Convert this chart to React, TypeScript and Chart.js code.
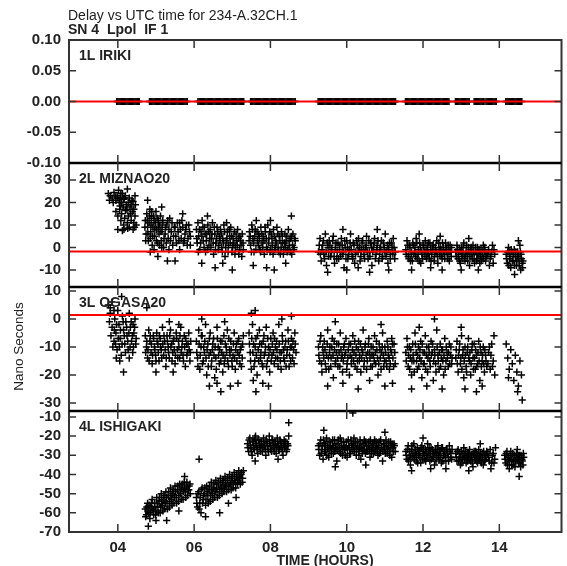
import React, { useEffect, useRef } from 'react';
import { Chart, registerables } from 'chart.js';

Chart.register(...registerables);

const TITLE = 'Delay vs UTC time for 234-A.32CH.1';
const SUBTITLE = 'SN 4  Lpol  IF 1';
const X_LABEL = 'TIME (HOURS)';
const Y_LABEL = 'Nano Seconds';

const X_TICKS = [4, 6, 8, 10, 12, 14];
const X_MIN = 2.72;
const X_MAX = 15.63;

const PANEL_NAMES = ['1L IRIKI', '2L MIZNAO20', '3L OGASA20', '4L ISHIGAKI'];
const Y_TICKS_1 = [-0.1, -0.05, 0, 0.05, 0.1];
const Y_TICKS_2 = [-10, 0, 10, 20, 30];
const Y_TICKS_3 = [-30, -20, -10, 0, 10];
const Y_TICKS_4 = [-70, -60, -50, -40, -30, -20, -10];
const Y_RANGE_1 = [-0.1, 0.1];
const Y_RANGE_2 = [-17.6, 37.6];
const Y_RANGE_3 = [-32.9, 11.4];
const Y_RANGE_4 = [-70, -6.9];
const REF_LINES = [0, -1.8, 1.4]; // red reference delay per panel 1..3

// 1L IRIKI: reference antenna, delay 0.00 at all times
const irikiTimes = [
  3.97,4.00,4.03,4.06,4.09,4.12,4.15,4.18,4.21,4.24,4.27,4.30,4.33,4.36,4.39,4.42,4.45,4.48,4.51,4.54,4.56,
  4.83,4.86,4.89,4.92,4.95,4.98,5.01,5.04,5.07,5.10,5.13,5.16,5.19,5.22,5.25,5.28,5.31,5.34,5.37,5.40,5.43,5.46,5.49,5.52,5.55,5.58,5.61,5.64,5.67,5.70,5.73,5.76,5.79,5.82,
  6.10,6.13,6.16,6.19,6.22,6.25,6.28,6.31,6.34,6.37,6.40,6.43,6.46,6.49,6.52,6.55,6.58,6.61,6.64,6.67,6.70,6.73,6.76,6.79,6.82,6.85,6.88,6.91,6.94,6.97,7.00,7.03,7.06,7.09,7.12,7.15,7.18,7.21,7.24,7.27,7.30,
  7.48,7.51,7.54,7.57,7.60,7.63,7.66,7.69,7.72,7.75,7.78,7.81,7.84,7.87,7.90,7.93,7.96,7.99,8.02,8.05,8.08,8.11,8.14,8.17,8.20,8.23,8.26,8.29,8.32,8.35,8.38,8.41,8.44,8.47,8.50,8.53,8.56,8.59,8.62,8.65,
  9.25,9.28,9.31,9.34,9.37,9.40,9.43,9.46,9.49,9.52,9.55,9.58,9.61,9.64,9.67,9.70,9.73,9.76,9.79,9.82,9.85,9.88,9.91,9.94,9.97,10.00,10.03,10.06,10.09,10.12,10.15,10.18,10.21,10.24,10.27,10.30,10.33,10.36,10.39,10.42,10.45,10.48,10.51,10.54,10.57,10.60,10.63,10.66,10.69,10.72,10.75,10.78,10.81,10.84,10.87,10.90,10.93,10.96,10.99,11.02,11.05,11.08,11.11,11.14,11.17,11.20,11.23,11.26,11.28,
  11.54,11.57,11.60,11.63,11.66,11.69,11.72,11.75,11.78,11.81,11.84,11.87,11.90,11.93,11.96,11.99,12.02,12.05,12.08,12.11,12.14,12.17,12.20,12.23,12.26,12.29,12.32,12.35,12.38,12.41,12.44,12.47,12.50,12.53,12.56,12.59,12.62,12.65,12.68,
  12.85,12.88,12.91,12.94,12.97,13.00,13.03,13.06,13.09,13.12,13.15,13.18,13.21,
  13.34,13.37,13.40,13.43,13.46,13.49,13.52,13.55,13.58,13.60,
  13.65,13.68,13.71,13.74,13.77,13.80,13.83,13.86,13.89,13.92,
  14.17,14.20,14.23,14.26,14.29,14.32,14.35,14.38,14.41,14.44,14.47,14.50,14.53,14.56,14.59,
];
const irikiDelay = 0.0;

// 2L MIZNAO20 [hours, ns]
const miznao20: [number, number][] = [
  [3.75,24],[3.8,23],[3.85,22],[3.9,24.5],[3.95,21],[3.98,23],[4.02,25.5],[4.06,22],[4.1,20],[4.12,24],[4.15,21.5],[4.2,23],[4.25,26],[4.3,22],[4.35,19],[4.4,20.5],[4.45,23],
  [3.95,16],[4.0,14],[4.05,17],[4.08,12],[4.1,15],[4.15,10],[4.18,13],[4.2,16.5],[4.25,11],[4.28,14],[4.3,9],[4.35,12],[4.38,16],[4.4,8],[4.42,11],[4.45,14],[4.48,10],[4.0,8],[4.12,7.5],[4.22,19],[4.32,18],[4.06,18.5],
  [3.78,21],[3.88,20],[3.93,23],[4.0,22],[4.04,20],[4.08,24],[4.14,18],[4.17,22],[4.24,17],[4.27,20],[4.33,15],[4.37,21],[4.42,17],[4.46,19],[4.16,8],[4.26,8.5],[4.44,9],
  [4.72,12],[4.74,6],[4.76,15],[4.78,9],[4.8,3],[4.82,11],[4.84,17],[4.86,7],[4.88,13],[4.9,1],[4.92,9],[4.94,14],[4.96,5],[4.98,11],[5.0,16],[5.02,8],[5.04,2],[5.06,12],[5.08,6],[5.1,10],[5.12,14],[5.14,3],[5.16,8],[5.18,12],[5.2,0],[5.24,6],[5.28,10],[5.32,4],[5.36,13],[5.4,7],[5.44,1],[5.48,9],[5.52,5],[5.56,11],[5.6,3],[5.64,8],[5.68,12],[5.72,2],[5.76,6],[5.8,10],[5.84,4],[5.88,7],[5.9,1],[4.78,21],[4.85,-2],[5.05,-4],[5.3,-6],[5.5,-6],[5.15,18],[5.7,15],
  [4.71,9],[4.73,3],[4.77,12],[4.79,6],[4.83,14],[4.85,4],[4.87,10],[4.89,16],[4.91,5],[4.95,12],[4.97,8],[5.01,3],[5.03,13],[5.07,9],[5.09,1],[5.13,7],[5.17,11],[5.21,4],[5.25,9],[5.27,2],[5.31,12],[5.34,8],[5.38,3],[5.42,11],[5.46,5],[5.5,9],[5.54,2],[5.58,7],[5.62,11],[5.66,4],[5.7,9],[5.74,3],[5.78,8],[5.82,1],[5.86,10],[5.9,5],[5.34,-1],[5.62,-1],[4.95,-1],[5.15,0],
  [6.06,8],[6.08,2],[6.1,11],[6.12,5],[6.15,-1],[6.18,7],[6.21,12],[6.24,3],[6.27,9],[6.3,-2],[6.33,6],[6.36,10],[6.39,1],[6.42,8],[6.45,4],[6.48,11],[6.51,-3],[6.54,6],[6.57,2],[6.6,9],[6.63,-1],[6.66,5],[6.69,8],[6.72,0],[6.75,4],[6.78,10],[6.81,-4],[6.84,3],[6.87,7],[6.9,1],[6.93,5],[6.96,9],[6.99,-2],[7.02,4],[7.05,7],[7.08,0],[7.11,3],[7.14,8],[7.17,-3],[7.2,5],[7.23,1],[7.26,6],[7.29,-1],[6.2,-7],[6.55,-9],[6.75,-7],[7.0,-10],[6.35,14],[6.85,11],
  [6.07,4],[6.11,-2],[6.14,8],[6.17,2],[6.2,5],[6.23,9],[6.26,0],[6.29,6],[6.32,3],[6.35,-1],[6.38,7],[6.41,4],[6.44,0],[6.47,6],[6.5,2],[6.53,9],[6.56,-1],[6.59,4],[6.62,7],[6.65,1],[6.68,3],[6.71,6],[6.74,-2],[6.77,2],[6.8,7],[6.83,0],[6.86,4],[6.89,-2],[6.92,8],[6.95,2],[6.98,5],[7.01,0],[7.04,2],[7.07,-3],[7.1,6],[7.13,1],[7.16,4],[7.19,-1],[7.22,3],[7.25,-4],[7.28,2],
  [7.45,7],[7.48,1],[7.51,10],[7.54,4],[7.57,-2],[7.6,8],[7.63,12],[7.66,3],[7.69,6],[7.72,-1],[7.75,9],[7.78,2],[7.81,5],[7.84,-3],[7.87,7],[7.9,0],[7.93,10],[7.96,4],[7.99,-2],[8.02,6],[8.05,1],[8.08,8],[8.11,-1],[8.14,3],[8.17,9],[8.2,0],[8.23,5],[8.26,-3],[8.29,7],[8.32,2],[8.35,-1],[8.38,6],[8.41,3],[8.44,-2],[8.47,8],[8.5,1],[8.53,4],[8.56,-3],[8.59,6],[8.62,0],[8.65,3],[7.55,-8],[7.9,-9],[8.1,-10],[8.4,-7],[8.55,14],[8.0,12],
  [7.44,3],[7.47,5],[7.5,-2],[7.53,8],[7.56,2],[7.59,5],[7.62,-1],[7.65,7],[7.68,1],[7.71,4],[7.74,-2],[7.77,6],[7.8,0],[7.83,3],[7.86,9],[7.89,4],[7.92,-1],[7.95,2],[7.98,7],[8.01,-1],[8.04,4],[8.07,-3],[8.1,5],[8.13,0],[8.16,2],[8.19,6],[8.22,-2],[8.25,3],[8.28,0],[8.31,5],[8.34,-3],[8.37,2],[8.4,0],[8.43,5],[8.46,-1],[8.49,3],[8.52,-2],[8.55,5],[8.58,1],[8.61,-1],[8.64,4],
  [9.26,-2],[9.3,4],[9.33,-6],[9.37,1],[9.4,-3],[9.44,6],[9.47,-8],[9.51,0],[9.54,3],[9.58,-4],[9.61,-1],[9.65,5],[9.68,-7],[9.72,2],[9.75,-2],[9.79,-5],[9.82,1],[9.86,4],[9.89,-3],[9.93,-9],[9.96,0],[10.0,3],[10.03,-5],[10.07,-1],[10.1,6],[10.14,-4],[10.17,2],[10.21,-7],[10.24,-2],[10.28,1],[10.31,4],[10.35,-6],[10.38,-1],[10.42,3],[10.45,-3],[10.49,0],[10.52,5],[10.56,-5],[10.59,-2],[10.63,2],[10.66,-8],[10.7,0],[10.73,4],[10.77,-3],[10.8,1],[10.84,-6],[10.87,-1],[10.91,3],[10.94,-4],[10.98,0],[11.01,6],[11.05,-2],[11.08,-7],[11.12,2],[11.15,-3],[11.19,0],[11.22,4],[11.26,-5],[9.5,-11],[10.0,-10],[10.6,-11],[11.1,-10],[9.9,8],[10.8,8],[10.3,-9],
  [9.28,1],[9.31,-3],[9.35,-1],[9.39,3],[9.42,-5],[9.46,-2],[9.49,2],[9.53,-4],[9.56,1],[9.6,-2],[9.63,3],[9.67,-4],[9.7,0],[9.74,-5],[9.77,2],[9.81,-1],[9.84,-4],[9.88,1],[9.91,-2],[9.95,3],[9.98,-5],[10.02,0],[10.05,-3],[10.09,2],[10.12,-1],[10.16,-5],[10.19,1],[10.23,-3],[10.26,3],[10.3,-2],[10.33,0],[10.37,-4],[10.4,2],[10.44,-1],[10.47,-5],[10.51,1],[10.54,-2],[10.58,3],[10.61,-4],[10.65,0],[10.68,-2],[10.72,2],[10.75,-5],[10.79,-1],[10.82,3],[10.86,-3],[10.89,0],[10.93,-5],[10.96,2],[11.0,-2],[11.03,-4],[11.07,1],[11.1,-1],[11.14,-5],[11.17,2],[11.21,-3],[11.24,0],[11.27,-2],
  [11.55,-1],[11.58,3],[11.61,-4],[11.64,1],[11.67,-6],[11.7,-2],[11.73,2],[11.76,-3],[11.79,0],[11.82,4],[11.85,-5],[11.88,-1],[11.91,2],[11.94,-7],[11.97,-3],[12.0,1],[12.03,-2],[12.06,3],[12.09,-5],[12.12,0],[12.15,-3],[12.18,2],[12.21,-6],[12.24,-1],[12.27,1],[12.3,-4],[12.33,-2],[12.36,3],[12.39,-7],[12.42,-1],[12.45,0],[12.48,-4],[12.51,2],[12.54,-2],[12.57,-5],[12.6,0],[12.63,-3],[12.66,1],[12.69,-6],[12.72,-2],[12.75,0],[11.7,-10],[12.2,-9],[12.5,-10],[11.9,6],[12.45,5],
  [11.56,-3],[11.6,1],[11.63,-5],[11.66,0],[11.69,-3],[11.72,-6],[11.75,1],[11.78,-2],[11.81,-4],[11.84,2],[11.87,-3],[11.9,-6],[11.93,0],[11.96,-2],[11.99,-5],[12.02,1],[12.05,-4],[12.08,-1],[12.11,-3],[12.14,2],[12.17,-5],[12.2,-1],[12.23,-3],[12.26,1],[12.29,-6],[12.32,0],[12.35,-2],[12.38,-4],[12.41,2],[12.44,-3],[12.47,-1],[12.5,-5],[12.53,0],[12.56,-3],[12.59,2],[12.62,-1],[12.65,-5],[12.68,-2],[12.71,1],[12.74,-4],
  [12.86,-2],[12.89,1],[12.92,-5],[12.95,-1],[12.98,-7],[13.01,0],[13.04,-3],[13.07,2],[13.1,-6],[13.13,-2],[13.16,-4],[13.19,0],[13.22,-8],[13.25,-1],[13.28,-3],[13.31,1],[13.34,-5],[13.37,-2],[13.4,-6],[13.43,0],[13.46,-3],[13.49,-7],[13.52,-1],[13.55,-4],[13.58,1],[13.61,-2],[13.64,-6],[13.67,-3],[13.0,-10],[13.45,-10],[13.2,4],
  [12.87,-4],[12.9,-1],[12.93,-3],[12.96,-6],[12.99,-2],[13.02,-4],[13.05,0],[13.08,-5],[13.11,-3],[13.14,1],[13.17,-6],[13.2,-2],[13.23,-4],[13.26,0],[13.29,-5],[13.32,-2],[13.35,-7],[13.38,0],[13.41,-3],[13.44,-5],[13.47,-1],[13.5,-4],[13.53,-6],[13.56,-2],[13.59,-5],[13.62,0],[13.65,-4],[13.7,-3],[13.78,-4],[13.86,-1],
  [13.72,-1],[13.76,-5],[13.8,-2],[13.84,-7],[13.88,-3],[13.74,-8],[13.82,1],
  [14.18,-3],[14.21,-7],[14.24,0],[14.27,-5],[14.3,-9],[14.33,-2],[14.36,-6],[14.39,-1],[14.42,-4],[14.45,-8],[14.48,-2],[14.51,-5],[14.54,1],[14.57,-3],[14.6,-7],[14.5,-4],[14.56,-10],[14.26,-2],[14.62,-6],[14.4,-12],[14.5,3],
  [14.19,-5],[14.22,-2],[14.25,-8],[14.28,-4],[14.31,-1],[14.34,-6],[14.37,-3],[14.4,-8],[14.43,-2],[14.46,-6],[14.49,-4],[14.52,-8],[14.55,-2],[14.58,-5],[14.61,-9],
];

// 3L OGASA20 [hours, ns]
const ogasa20: [number, number][] = [
  [3.75,5],[3.8,2],[3.85,-3],[3.9,-8],[3.92,0],[3.95,-5],[3.98,-11],[4.0,3],[4.03,-2],[4.06,-7],[4.09,-13],[4.12,1],[4.15,-4],[4.18,-9],[4.21,-1],[4.24,-6],[4.27,-11],[4.3,2],[4.33,-3],[4.36,-8],[4.39,-12],[4.42,-5],[4.45,0],[4.48,-7],[3.96,-14],[4.05,-15],[4.15,-19],[4.3,-14],[3.85,6],[4.1,8],[4.4,-2],
  [3.78,-1],[3.82,-6],[3.87,-10],[3.91,-4],[3.94,-9],[3.97,-2],[4.01,-7],[4.04,-10],[4.07,-4],[4.11,-9],[4.14,-1],[4.17,-6],[4.2,-12],[4.23,-3],[4.26,-8],[4.29,-5],[4.32,-10],[4.35,-1],[4.38,-6],[4.41,-10],[4.44,-3],[4.47,-9],[3.8,4],[3.9,3],
  [4.72,-6],[4.75,-10],[4.78,-14],[4.81,-4],[4.84,-8],[4.87,-12],[4.9,-16],[4.93,-6],[4.96,-10],[4.99,-13],[5.02,-5],[5.05,-9],[5.08,-15],[5.11,-7],[5.14,-11],[5.17,-3],[5.2,-13],[5.23,-8],[5.26,-17],[5.29,-6],[5.32,-10],[5.35,-14],[5.38,-4],[5.41,-9],[5.44,-12],[5.47,-7],[5.5,-16],[5.53,-5],[5.56,-11],[5.59,-8],[5.62,-14],[5.65,-3],[5.68,-10],[5.71,-13],[5.74,-6],[5.77,-17],[5.8,-9],[5.83,-12],[5.86,-5],[5.89,-15],[5.91,-8],[4.76,4],[5.35,-1],[5.6,-2],[5.0,-19],[5.45,-19],
  [4.73,-12],[4.76,-8],[4.79,-11],[4.82,-15],[4.85,-6],[4.88,-9],[4.91,-13],[4.94,-7],[4.97,-11],[5.0,-15],[5.03,-8],[5.06,-12],[5.09,-6],[5.12,-10],[5.15,-14],[5.18,-9],[5.21,-6],[5.24,-11],[5.27,-14],[5.3,-8],[5.33,-12],[5.36,-6],[5.39,-10],[5.42,-15],[5.45,-8],[5.48,-11],[5.51,-13],[5.54,-7],[5.57,-14],[5.6,-10],[5.63,-6],[5.66,-12],[5.69,-8],[5.72,-15],[5.75,-10],[5.78,-7],[5.81,-13],[5.84,-9],[5.87,-11],[5.9,-12],
  [6.06,-8],[6.09,-14],[6.12,-4],[6.15,-18],[6.18,-10],[6.21,-6],[6.24,-15],[6.27,-12],[6.3,-2],[6.33,-20],[6.36,-9],[6.39,-13],[6.42,-5],[6.45,-17],[6.48,-11],[6.51,-7],[6.54,-21],[6.57,-14],[6.6,-3],[6.63,-10],[6.66,-16],[6.69,-8],[6.72,-12],[6.75,-19],[6.78,-6],[6.81,-14],[6.84,-10],[6.87,-4],[6.9,-17],[6.93,-11],[6.96,-8],[6.99,-15],[7.02,-13],[7.05,-5],[7.08,-18],[7.11,-9],[7.14,-12],[7.17,-7],[7.2,-16],[7.23,-10],[7.26,-14],[7.29,-6],[6.6,-23],[6.7,-26],[6.95,-24],[7.15,-23],[6.4,-24],[6.2,0],[6.8,-1],
  [6.07,-12],[6.1,-17],[6.13,-9],[6.16,-13],[6.19,-6],[6.22,-16],[6.25,-10],[6.28,-8],[6.31,-14],[6.34,-11],[6.37,-17],[6.4,-7],[6.43,-12],[6.46,-15],[6.49,-9],[6.52,-13],[6.55,-10],[6.58,-18],[6.61,-7],[6.64,-13],[6.67,-11],[6.7,-15],[6.73,-8],[6.76,-13],[6.79,-16],[6.82,-9],[6.85,-12],[6.88,-15],[6.91,-7],[6.94,-13],[6.97,-11],[7.0,-17],[7.03,-9],[7.06,-14],[7.09,-11],[7.12,-15],[7.15,-8],[7.18,-13],[7.21,-11],[7.24,-17],[7.27,-9],
  [7.44,-5],[7.47,-12],[7.5,-18],[7.53,-2],[7.56,-9],[7.59,-15],[7.62,-7],[7.65,-20],[7.68,-11],[7.71,-4],[7.74,-14],[7.77,-9],[7.8,-17],[7.83,-6],[7.86,-12],[7.89,-3],[7.92,-15],[7.95,-10],[7.98,-19],[8.01,-7],[8.04,-13],[8.07,-5],[8.1,-16],[8.13,-10],[8.16,-8],[8.19,-14],[8.22,-2],[8.25,-12],[8.28,-18],[8.31,-6],[8.34,-11],[8.37,-15],[8.4,-8],[8.43,-13],[8.46,-4],[8.49,-17],[8.52,-10],[8.55,-7],[8.58,-14],[8.61,-11],[8.64,-5],[8.67,-12],[7.5,2],[7.6,3],[7.55,-22],[7.62,-26],[7.8,-23],[7.95,-24],[8.3,0],[8.55,1],
  [7.45,-9],[7.48,-15],[7.51,-7],[7.54,-12],[7.57,-17],[7.6,-10],[7.63,-13],[7.66,-6],[7.69,-15],[7.72,-9],[7.75,-12],[7.78,-16],[7.81,-8],[7.84,-13],[7.87,-10],[7.9,-17],[7.93,-7],[7.96,-13],[7.99,-11],[8.02,-15],[8.05,-9],[8.08,-12],[8.11,-7],[8.14,-14],[8.17,-11],[8.2,-17],[8.23,-9],[8.26,-15],[8.29,-12],[8.32,-8],[8.35,-14],[8.38,-10],[8.41,-17],[8.44,-11],[8.47,-8],[8.5,-13],[8.53,-15],[8.56,-10],[8.59,-8],[8.62,-16],[8.65,-9],
  [9.26,-10],[9.29,-15],[9.32,-6],[9.35,-19],[9.38,-12],[9.41,-8],[9.44,-16],[9.47,-13],[9.5,-4],[9.53,-18],[9.56,-10],[9.59,-14],[9.62,-7],[9.65,-21],[9.68,-11],[9.71,-15],[9.74,-9],[9.77,-17],[9.8,-12],[9.83,-5],[9.86,-14],[9.89,-19],[9.92,-10],[9.95,-13],[9.98,-7],[10.01,-16],[10.04,-11],[10.07,-20],[10.1,-9],[10.13,-14],[10.16,-6],[10.19,-12],[10.22,-17],[10.25,-10],[10.28,-15],[10.31,-8],[10.34,-13],[10.37,-19],[10.4,-11],[10.43,-4],[10.46,-15],[10.49,-9],[10.52,-18],[10.55,-12],[10.58,-7],[10.61,-14],[10.64,-10],[10.67,-17],[10.7,-13],[10.73,-6],[10.76,-16],[10.79,-11],[10.82,-20],[10.85,-9],[10.88,-14],[10.91,-12],[10.94,-5],[10.97,-17],[11.0,-10],[11.03,-15],[11.06,-8],[11.09,-13],[11.12,-18],[11.15,-11],[11.18,-7],[11.21,-14],[11.24,-9],[11.27,-16],[9.5,-24],[9.9,-23],[10.3,-25],[10.6,-22],[11.0,-24],[9.7,-1],[10.9,-2],[11.2,-23],
  [9.27,-13],[9.3,-8],[9.34,-16],[9.37,-10],[9.4,-14],[9.43,-11],[9.46,-18],[9.49,-9],[9.52,-14],[9.55,-12],[9.58,-17],[9.61,-10],[9.64,-13],[9.67,-8],[9.7,-16],[9.73,-12],[9.76,-14],[9.79,-9],[9.82,-17],[9.85,-11],[9.88,-13],[9.91,-15],[9.94,-9],[9.97,-12],[10.0,-18],[10.03,-14],[10.06,-9],[10.09,-13],[10.12,-16],[10.15,-11],[10.18,-15],[10.21,-8],[10.24,-13],[10.27,-18],[10.3,-11],[10.33,-15],[10.36,-9],[10.39,-14],[10.42,-12],[10.45,-17],[10.48,-10],[10.51,-13],[10.54,-15],[10.57,-9],[10.6,-12],[10.63,-17],[10.66,-13],[10.69,-10],[10.72,-15],[10.75,-12],[10.78,-8],[10.81,-14],[10.84,-16],[10.87,-11],[10.9,-18],[10.93,-10],[10.96,-13],[10.99,-15],[11.02,-12],[11.05,-17],[11.08,-10],[11.11,-14],[11.14,-16],[11.17,-12],[11.2,-9],[11.23,-17],[11.26,-12],
  [11.55,-12],[11.58,-7],[11.61,-17],[11.64,-10],[11.67,-14],[11.7,-20],[11.73,-9],[11.76,-15],[11.79,-5],[11.82,-12],[11.85,-18],[11.88,-10],[11.91,-14],[11.94,-8],[11.97,-21],[12.0,-12],[12.03,-16],[12.06,-6],[12.09,-13],[12.12,-19],[12.15,-10],[12.18,-15],[12.21,-8],[12.24,-12],[12.27,-22],[12.3,-11],[12.33,-16],[12.36,-4],[12.39,-13],[12.42,-18],[12.45,-9],[12.48,-14],[12.51,-11],[12.54,-20],[12.57,-7],[12.6,-15],[12.63,-12],[12.66,-17],[12.69,-9],[12.72,-13],[12.75,-16],[11.7,-25],[12.1,-24],[12.3,0],[12.5,-25],[11.9,-3],
  [11.56,-15],[11.59,-10],[11.62,-13],[11.65,-18],[11.68,-11],[11.71,-15],[11.74,-13],[11.77,-19],[11.8,-9],[11.83,-15],[11.86,-13],[11.89,-17],[11.92,-11],[11.95,-15],[11.98,-9],[12.01,-16],[12.04,-12],[12.07,-18],[12.1,-10],[12.13,-14],[12.16,-12],[12.19,-17],[12.22,-13],[12.25,-9],[12.28,-15],[12.31,-13],[12.34,-19],[12.37,-10],[12.4,-15],[12.43,-12],[12.46,-17],[12.49,-11],[12.52,-15],[12.55,-13],[12.58,-18],[12.61,-10],[12.64,-14],[12.67,-12],[12.7,-16],[12.73,-10],[12.76,-14],
  [12.86,-14],[12.89,-8],[12.92,-19],[12.95,-11],[12.98,-16],[13.01,-6],[13.04,-13],[13.07,-21],[13.1,-10],[13.13,-17],[13.16,-12],[13.19,-7],[13.22,-15],[13.25,-20],[13.28,-11],[13.31,-14],[13.34,-9],[13.37,-18],[13.4,-13],[13.43,-16],[13.46,-8],[13.49,-22],[13.52,-12],[13.55,-15],[13.58,-10],[13.61,-19],[13.64,-13],[13.67,-17],[13.1,-25],[13.4,-26],[13.0,-3],[13.55,-24],
  [12.87,-11],[12.9,-16],[12.93,-13],[12.96,-9],[12.99,-14],[13.02,-18],[13.05,-11],[13.08,-15],[13.11,-13],[13.14,-19],[13.17,-10],[13.2,-14],[13.23,-12],[13.26,-16],[13.29,-9],[13.32,-18],[13.35,-14],[13.38,-11],[13.41,-17],[13.44,-12],[13.47,-15],[13.5,-10],[13.53,-17],[13.56,-13],[13.59,-16],[13.62,-11],[13.65,-15],[13.7,-16],[13.74,-10],[13.82,-17],
  [13.72,-12],[13.76,-18],[13.8,-9],[13.84,-15],[13.88,-20],[13.78,-13],[13.86,-6],
  [14.18,-9],[14.22,-14],[14.26,-18],[14.3,-11],[14.34,-16],[14.38,-22],[14.42,-13],[14.46,-19],[14.5,-24],[14.54,-15],[14.58,-20],[14.6,-29],[14.48,-26],[14.24,-21],
];

// 4L ISHIGAKI [hours, ns]
const ishigaki: [number, number][] = [
  [4.72,-58],[4.75,-61],[4.78,-55],[4.81,-60],[4.84,-63],[4.87,-57],[4.9,-53],[4.93,-59],[4.96,-55],[4.99,-61],[5.02,-52],[5.05,-57],[5.08,-54],[5.11,-60],[5.14,-50],[5.17,-56],[5.2,-53],[5.23,-58],[5.26,-49],[5.29,-55],[5.32,-51],[5.35,-57],[5.38,-47],[5.41,-53],[5.44,-50],[5.47,-55],[5.5,-46],[5.53,-52],[5.56,-48],[5.59,-54],[5.62,-45],[5.65,-50],[5.68,-47],[5.71,-53],[5.74,-44],[5.77,-49],[5.8,-46],[5.83,-51],[5.86,-48],[5.89,-45],[4.8,-67],[5.28,-64],[5.0,-64],[5.6,-59],[5.75,-41],
  [4.73,-62],[4.76,-57],[4.79,-59],[4.82,-56],[4.85,-60],[4.88,-55],[4.91,-58],[4.94,-61],[4.97,-57],[5.0,-59],[5.03,-55],[5.06,-60],[5.09,-52],[5.12,-57],[5.15,-54],[5.18,-59],[5.21,-51],[5.24,-55],[5.27,-52],[5.3,-58],[5.33,-49],[5.36,-54],[5.39,-51],[5.42,-56],[5.45,-48],[5.48,-52],[5.51,-49],[5.54,-55],[5.57,-46],[5.6,-51],[5.63,-48],[5.66,-53],[5.69,-45],[5.72,-49],[5.75,-47],[5.78,-52],[5.81,-44],[5.84,-48],[5.87,-46],[5.9,-50],
  [6.06,-52],[6.09,-57],[6.12,-49],[6.15,-55],[6.18,-60],[6.21,-47],[6.24,-53],[6.27,-50],[6.3,-56],[6.33,-46],[6.36,-51],[6.39,-48],[6.42,-54],[6.45,-44],[6.48,-50],[6.51,-47],[6.54,-52],[6.57,-43],[6.6,-49],[6.63,-45],[6.66,-51],[6.69,-42],[6.72,-47],[6.75,-44],[6.78,-49],[6.81,-41],[6.84,-46],[6.87,-43],[6.9,-48],[6.93,-40],[6.96,-45],[6.99,-42],[7.02,-47],[7.05,-39],[7.08,-44],[7.11,-41],[7.14,-45],[7.17,-38],[7.2,-42],[7.23,-40],[7.26,-44],[7.29,-38],[6.13,-32],[6.67,-60],[6.9,-55],[7.1,-52],[6.3,-62],
  [6.07,-55],[6.1,-50],[6.13,-58],[6.16,-52],[6.19,-48],[6.22,-55],[6.25,-51],[6.28,-47],[6.31,-53],[6.34,-49],[6.37,-55],[6.4,-46],[6.43,-51],[6.46,-48],[6.49,-53],[6.52,-45],[6.55,-49],[6.58,-47],[6.61,-52],[6.64,-44],[6.67,-48],[6.7,-46],[6.73,-50],[6.76,-43],[6.79,-47],[6.82,-45],[6.85,-49],[6.88,-42],[6.91,-46],[6.94,-44],[6.97,-48],[7.0,-41],[7.03,-45],[7.06,-43],[7.09,-47],[7.12,-40],[7.15,-43],[7.18,-41],[7.21,-45],[7.24,-39],[7.27,-42],
  [7.4,-24],[7.43,-28],[7.46,-21],[7.49,-26],[7.52,-30],[7.55,-23],[7.58,-27],[7.61,-20],[7.64,-25],[7.67,-29],[7.7,-22],[7.73,-26],[7.76,-24],[7.79,-28],[7.82,-21],[7.85,-25],[7.88,-30],[7.91,-23],[7.94,-27],[7.97,-20],[8.0,-25],[8.03,-28],[8.06,-22],[8.09,-26],[8.12,-24],[8.15,-29],[8.18,-21],[8.21,-25],[8.24,-27],[8.27,-23],[8.3,-26],[8.33,-30],[8.36,-22],[8.39,-25],[8.42,-28],[8.45,-24],[8.48,-20],[8.48,-13],[7.6,-33],[8.2,-32],
  [7.41,-26],[7.44,-22],[7.47,-25],[7.5,-28],[7.53,-23],[7.56,-26],[7.59,-21],[7.62,-24],[7.65,-27],[7.68,-22],[7.71,-25],[7.74,-28],[7.77,-23],[7.8,-26],[7.83,-24],[7.86,-27],[7.89,-22],[7.92,-25],[7.95,-28],[7.98,-24],[8.01,-27],[8.04,-22],[8.07,-25],[8.1,-28],[8.13,-23],[8.16,-26],[8.19,-24],[8.22,-27],[8.25,-22],[8.28,-25],[8.31,-28],[8.34,-24],[8.37,-26],[8.4,-23],[8.43,-27],[8.46,-25],
  [9.26,-25],[9.29,-30],[9.32,-22],[9.35,-27],[9.38,-32],[9.41,-24],[9.44,-28],[9.47,-21],[9.5,-26],[9.53,-31],[9.56,-23],[9.59,-27],[9.62,-25],[9.65,-29],[9.68,-22],[9.71,-26],[9.74,-33],[9.77,-24],[9.8,-28],[9.83,-21],[9.86,-25],[9.89,-30],[9.92,-23],[9.95,-27],[9.98,-26],[10.01,-31],[10.04,-22],[10.07,-26],[10.1,-29],[10.13,-24],[10.16,-27],[10.19,-21],[10.22,-25],[10.25,-30],[10.28,-23],[10.31,-28],[10.34,-26],[10.37,-32],[10.4,-24],[10.43,-27],[10.46,-22],[10.49,-29],[10.52,-25],[10.55,-28],[10.58,-23],[10.61,-31],[10.64,-26],[10.67,-24],[10.7,-29],[10.73,-22],[10.76,-27],[10.79,-25],[10.82,-30],[10.85,-23],[10.88,-28],[10.91,-26],[10.94,-33],[10.97,-24],[11.0,-27],[11.03,-22],[11.06,-29],[11.09,-25],[11.12,-28],[11.15,-23],[11.18,-31],[11.21,-26],[11.24,-24],[11.27,-28],[10.16,-8],[9.4,-17],[10.5,-35],[9.7,-36],[11.0,-18],
  [9.27,-27],[9.3,-24],[9.33,-29],[9.36,-25],[9.39,-22],[9.42,-28],[9.45,-25],[9.48,-30],[9.51,-23],[9.54,-27],[9.57,-25],[9.6,-29],[9.63,-22],[9.66,-26],[9.69,-28],[9.72,-24],[9.75,-27],[9.78,-22],[9.81,-26],[9.84,-29],[9.87,-23],[9.9,-27],[9.93,-25],[9.96,-30],[9.99,-23],[10.02,-27],[10.05,-25],[10.08,-29],[10.11,-22],[10.14,-26],[10.17,-24],[10.2,-28],[10.23,-23],[10.26,-27],[10.29,-25],[10.32,-30],[10.35,-22],[10.38,-26],[10.41,-29],[10.44,-24],[10.47,-27],[10.5,-23],[10.53,-28],[10.56,-25],[10.59,-27],[10.62,-22],[10.65,-29],[10.68,-26],[10.71,-24],[10.74,-28],[10.77,-23],[10.8,-27],[10.83,-25],[10.86,-29],[10.89,-22],[10.92,-26],[10.95,-28],[10.98,-24],[11.01,-29],[11.04,-25],[11.07,-27],[11.1,-23],[11.13,-30],[11.16,-26],[11.19,-24],[11.22,-28],[11.25,-25],
  [11.55,-28],[11.58,-32],[11.61,-25],[11.64,-30],[11.67,-35],[11.7,-27],[11.73,-31],[11.76,-24],[11.79,-29],[11.82,-33],[11.85,-26],[11.88,-30],[11.91,-28],[11.94,-34],[11.97,-25],[12.0,-29],[12.03,-32],[12.06,-27],[12.09,-30],[12.12,-24],[12.15,-28],[12.18,-33],[12.21,-26],[12.24,-31],[12.27,-29],[12.3,-35],[12.33,-27],[12.36,-30],[12.39,-25],[12.42,-32],[12.45,-28],[12.48,-34],[12.51,-26],[12.54,-30],[12.57,-29],[12.6,-33],[12.63,-27],[12.66,-31],[12.69,-25],[12.72,-29],[12.75,-32],[11.7,-38],[12.2,-37],[12.0,-21],[12.6,-37],
  [11.56,-30],[11.59,-27],[11.62,-33],[11.65,-28],[11.68,-31],[11.71,-25],[11.74,-29],[11.77,-32],[11.8,-27],[11.83,-30],[11.86,-34],[11.89,-28],[11.92,-31],[11.95,-26],[11.98,-32],[12.01,-27],[12.04,-30],[12.07,-33],[12.1,-28],[12.13,-31],[12.16,-26],[12.19,-29],[12.22,-32],[12.25,-27],[12.28,-31],[12.31,-29],[12.34,-33],[12.37,-27],[12.4,-30],[12.43,-28],[12.46,-31],[12.49,-26],[12.52,-33],[12.55,-28],[12.58,-31],[12.61,-27],[12.64,-29],[12.67,-33],[12.7,-28],[12.73,-31],[12.76,-27],
  [12.86,-29],[12.89,-33],[12.92,-27],[12.95,-31],[12.98,-35],[13.01,-28],[13.04,-32],[13.07,-26],[13.1,-30],[13.13,-34],[13.16,-29],[13.19,-31],[13.22,-27],[13.25,-33],[13.28,-30],[13.31,-36],[13.34,-28],[13.37,-32],[13.4,-29],[13.43,-34],[13.46,-27],[13.49,-31],[13.52,-33],[13.55,-29],[13.58,-35],[13.61,-30],[13.64,-32],[13.67,-28],[13.2,-38],[13.5,-24],
  [12.87,-31],[12.9,-28],[12.93,-33],[12.96,-29],[12.99,-31],[13.02,-34],[13.05,-29],[13.08,-32],[13.11,-28],[13.14,-31],[13.17,-33],[13.2,-29],[13.23,-32],[13.26,-30],[13.29,-34],[13.32,-29],[13.35,-31],[13.38,-28],[13.41,-33],[13.44,-30],[13.47,-32],[13.5,-29],[13.53,-34],[13.56,-31],[13.59,-28],[13.62,-33],[13.65,-30],[13.7,-29],[13.74,-33],[13.82,-30],[13.86,-34],
  [13.72,-31],[13.76,-27],[13.8,-34],[13.84,-29],[13.88,-32],[13.78,-37],[13.9,-26],
  [14.14,-30],[14.17,-34],[14.2,-28],[14.23,-32],[14.26,-37],[14.29,-30],[14.32,-35],[14.35,-29],[14.38,-33],[14.41,-36],[14.44,-31],[14.47,-27],[14.5,-34],[14.53,-30],[14.56,-36],[14.59,-32],[14.62,-35],[14.64,-31],[14.52,-41],
  [14.15,-32],[14.18,-29],[14.21,-35],[14.24,-31],[14.27,-33],[14.3,-28],[14.33,-32],[14.36,-35],[14.39,-30],[14.42,-33],[14.45,-29],[14.48,-32],[14.51,-30],[14.54,-34],[14.57,-30],[14.6,-33],[14.63,-29],
];

const FONT = '"Liberation Sans", Arial, Helvetica, sans-serif';

function yAxis(range: number[], ticks: number[], weight: number, stackWeight: number, fmt: (v: number) => string) {
  return {
    type: 'linear' as const,
    position: 'left' as const,
    stack: 'panels',
    stackWeight,
    weight,
    min: range[0],
    max: range[1],
    grid: { display: false, drawTicks: false },
    border: { display: false },
    ticks: {
      padding: 8,
      autoSkip: false,
      color: '#222',
      font: { family: FONT, size: 15, weight: 'bold' as const },
      callback: (v: any) => fmt(Number(v)),
    },
    afterBuildTicks: (s: any) => {
      s.ticks = ticks.map((v) => ({ value: v }));
    },
    afterFit: (s: any) => {
      s.width = 69;
    },
  };
}

const framePlugin = {
  id: 'aipsFrame',
  afterDatasetsDraw(chart: any) {
    const ctx = chart.ctx as CanvasRenderingContext2D;
    const { left, right, top, bottom } = chart.chartArea;
    const ys = ['y1', 'y2', 'y3', 'y4'].map((k) => chart.scales[k]);
    const xs = chart.scales.x;
    ctx.save();
    ctx.strokeStyle = '#333';
    ctx.lineWidth = 2;
    ctx.strokeRect(left, top, right - left, bottom - top);
    ctx.strokeStyle = '#000';
    ctx.lineWidth = 2.5;
    for (let i = 0; i < 3; i++) {
      const y = ys[i].bottom;
      ctx.beginPath();
      ctx.moveTo(left, y);
      ctx.lineTo(right, y);
      ctx.stroke();
    }
    ctx.strokeStyle = '#333';
    ctx.lineWidth = 1.5;
    ys.forEach((s: any) => {
      s.ticks.forEach((t: any) => {
        const py = s.getPixelForValue(t.value);
        if (Math.abs(py - s.top) < 2 || Math.abs(py - s.bottom) < 2) return;
        ctx.beginPath();
        ctx.moveTo(left, py);
        ctx.lineTo(left + 7, py);
        ctx.moveTo(right, py);
        ctx.lineTo(right - 7, py);
        ctx.stroke();
      });
    });
    xs.ticks.forEach((t: any) => {
      const px = xs.getPixelForValue(t.value);
      ys.forEach((s: any) => {
        ctx.beginPath();
        ctx.moveTo(px, s.top);
        ctx.lineTo(px, s.top + 8);
        ctx.moveTo(px, s.bottom);
        ctx.lineTo(px, s.bottom - 8);
        ctx.stroke();
      });
    });
    ctx.fillStyle = '#222';
    ctx.font = `bold 14px ${FONT}`;
    ctx.textAlign = 'left';
    ctx.textBaseline = 'alphabetic';
    ys.forEach((s: any, i: number) => {
      ctx.fillText(PANEL_NAMES[i], left + 10, s.top + 20);
    });
    ctx.font = `14px ${FONT}`;
    ctx.fillText(TITLE, 68, 20);
    ctx.font = `bold 14px ${FONT}`;
    ctx.fillText(SUBTITLE, 68, 33.5);
    ctx.textAlign = 'center';
    ctx.fillText(X_LABEL, 325, 565);
    ctx.font = `13.5px ${FONT}`;
    ctx.translate(23, 346.5);
    ctx.rotate(-Math.PI / 2);
    ctx.fillText(Y_LABEL, 0, 0);
    ctx.restore();
  },
};

export default function App() {
  const ref = useRef<HTMLCanvasElement | null>(null);
  useEffect(() => {
    if (!ref.current) return;
    const cross = {
      pointStyle: 'cross' as const,
      pointRadius: 3.6,
      pointBorderWidth: 1.5,
      pointBorderColor: '#000',
      pointBackgroundColor: '#000',
      showLine: false,
      order: 2,
    };
    const redLine = (v: number, axis: string) => ({
      data: [
        { x: X_MIN, y: v },
        { x: X_MAX, y: v },
      ],
      yAxisID: axis,
      showLine: true,
      borderColor: '#ff0000',
      borderWidth: 2,
      pointRadius: 0,
      order: 1,
    });
    const chart = new Chart(ref.current, {
      type: 'scatter',
      data: {
        datasets: [
          redLine(REF_LINES[0], 'y1'),
          redLine(REF_LINES[1], 'y2'),
          redLine(REF_LINES[2], 'y3'),
          { ...cross, yAxisID: 'y1', data: irikiTimes.map((t) => ({ x: t, y: irikiDelay })) },
          { ...cross, yAxisID: 'y2', data: miznao20.map(([t, v]) => ({ x: t, y: v })) },
          { ...cross, yAxisID: 'y3', data: ogasa20.map(([t, v]) => ({ x: t, y: v })) },
          { ...cross, yAxisID: 'y4', data: ishigaki.map(([t, v]) => ({ x: t, y: v })) },
        ] as any,
      },
      options: {
        animation: false,
        responsive: false,
        events: [],
        layout: { padding: { top: 40, right: 2, left: 0, bottom: 0 } },
        plugins: { legend: { display: false }, tooltip: { enabled: false } },
        scales: {
          x: {
            type: 'linear',
            position: 'bottom',
            min: X_MIN,
            max: X_MAX,
            grid: { display: false, drawTicks: false },
            border: { display: false },
            ticks: {
              padding: 7,
              autoSkip: false,
              maxRotation: 0,
              color: '#222',
              font: { family: FONT, size: 15, weight: 'bold' },
              callback: (v: any) => String(v).padStart(2, '0'),
            },
            afterBuildTicks: (s: any) => {
              s.ticks = X_TICKS.map((v) => ({ value: v }));
            },
            afterFit: (s: any) => {
              s.height = 34;
            },
          },
          y1: yAxis(Y_RANGE_1, Y_TICKS_1, 4, 123, (v) => v.toFixed(2)),
          y2: yAxis(Y_RANGE_2, Y_TICKS_2, 3, 124, (v) => String(v)),
          y3: yAxis(Y_RANGE_3, Y_TICKS_3, 2, 124, (v) => String(v)),
          y4: yAxis(Y_RANGE_4, Y_TICKS_4, 1, 121, (v) => String(v)),
        } as any,
      },
      plugins: [framePlugin],
    });
    return () => chart.destroy();
  }, []);
  return (
    <div style={{ position: 'fixed', left: 0, top: 0, width: 567, height: 566, background: '#fff' }}>
      <canvas ref={ref} width={567} height={566} style={{ display: 'block' }} />
    </div>
  );
}
